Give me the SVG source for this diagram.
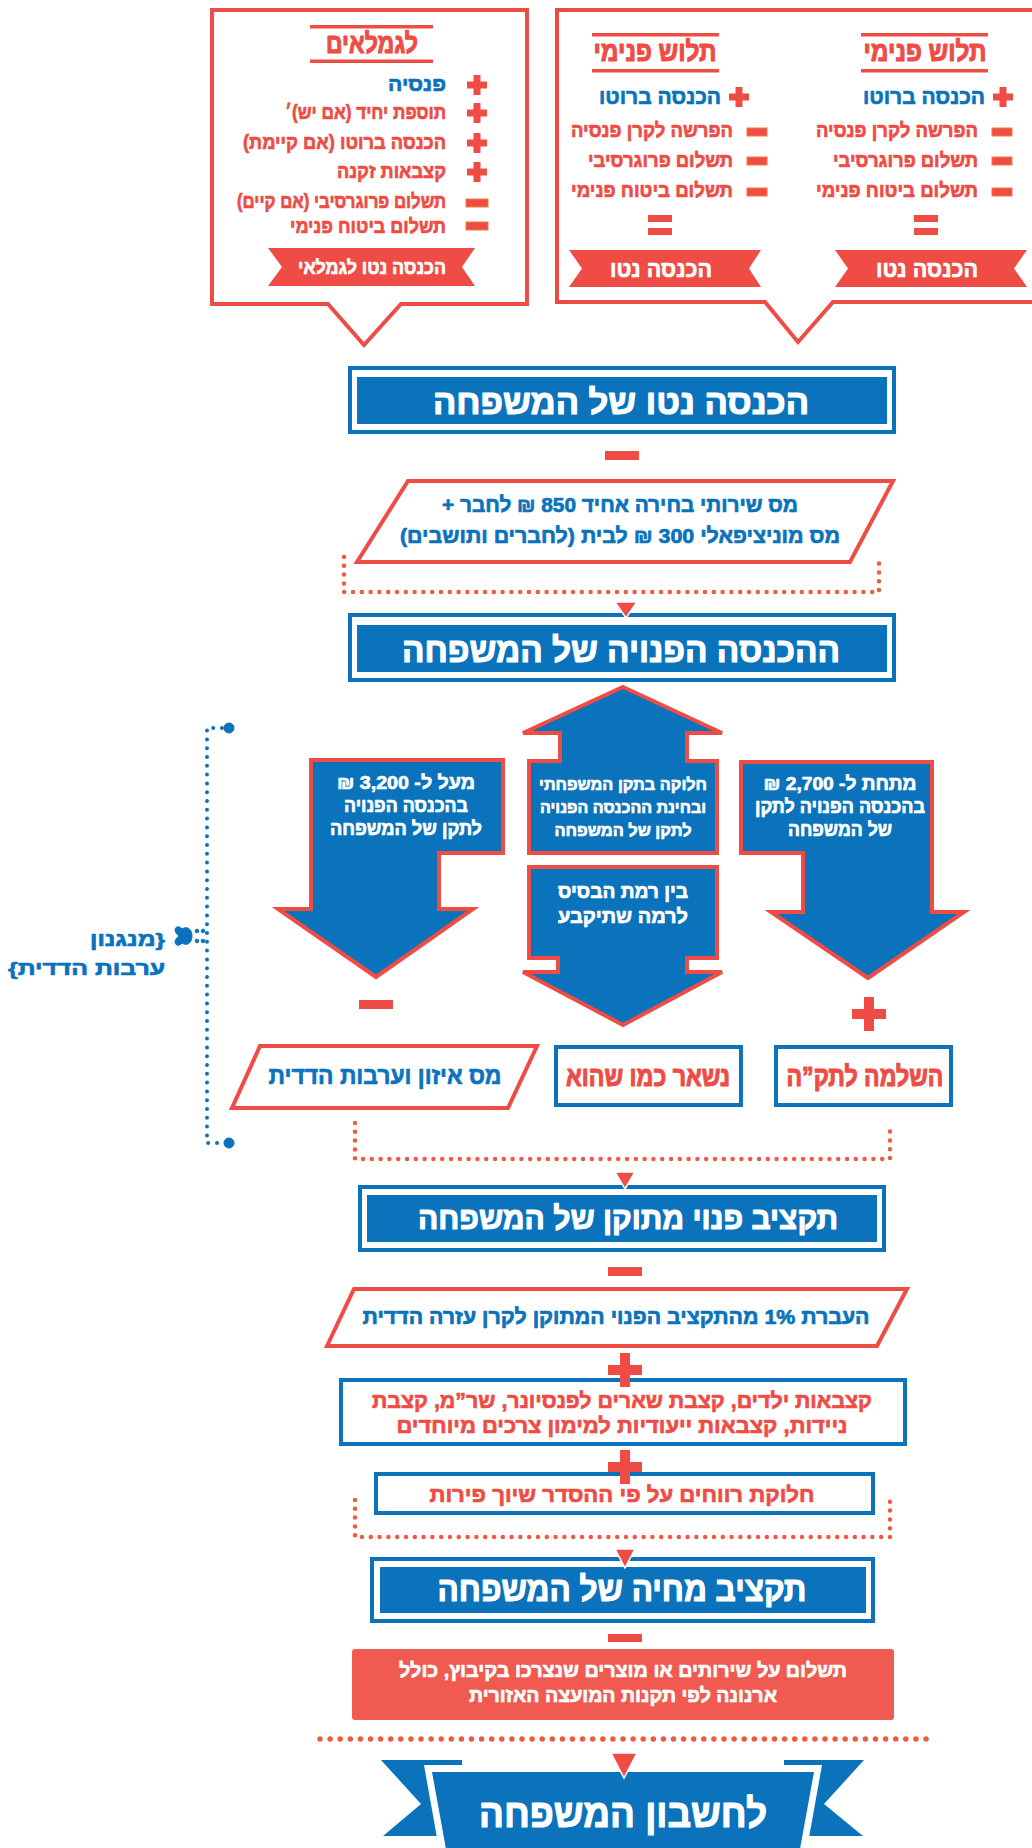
<svg xmlns="http://www.w3.org/2000/svg" width="1032" height="1848" viewBox="0 0 1032 1848">
<style>
.t{font-family:"Liberation Sans","DejaVu Sans",sans-serif;font-weight:bold;direction:rtl;stroke-width:0.7;stroke-linejoin:round}
.h{stroke-width:1.1}
.c{text-anchor:middle}
.r{text-anchor:start}
.w{fill:#fff;stroke:#fff}
.b{fill:#0A73BC;stroke:#0A73BC}
.rd{fill:#EE4C44;stroke:#EE4C44}
.rs{fill:none;stroke:#EE4C44;stroke-width:4}
.bs{fill:none;stroke:#0A73BC;stroke-width:4}
.bf{fill:#0A73BC}
.rf{fill:#EE4C44}
.arr{fill:#0A73BC;stroke:#EE4C44;stroke-width:4;stroke-linejoin:miter}
.dot{fill:none;stroke:#F05A3F;stroke-width:4.5;stroke-linecap:round;stroke-dasharray:0 8.8}
.bdot{fill:none;stroke:#0A73BC;stroke-width:4;stroke-linecap:round;stroke-dasharray:0 8.8}
.tri{fill:#EE4C44;stroke:#fff;stroke-width:1.5}
.mn{fill:#EE4C44;stroke:#F47B3F;stroke-width:1}
</style>
<defs>
<path id="plusS" d="M-3.5,-10h7v6.5h6.5v7h-6.5v6.5h-7v-6.5h-6.5v-7h6.5z" fill="#EE4C44"/>
<path id="plusL" d="M-5,-17h10v12h12v10h-12v12h-10v-12h-12v-10h12z" fill="#EE4C44"/>
</defs>

<!-- top left box -->
<g id="pensioners">
<path class="rs" fill="#fff" d="M212,10H527V304H401L364,345L328,304H212Z"/>
<rect class="rf" x="310" y="25" width="123" height="3.5"/>
<rect class="rf" x="310" y="59.5" width="123" height="3.5"/>
<text class="t h c rd" x="372" y="53" font-size="28" textLength="92" lengthAdjust="spacingAndGlyphs">לגמלאים</text>
<use href="#plusS" x="477" y="85"/>
<use href="#plusS" x="477" y="113"/>
<use href="#plusS" x="477" y="143"/>
<use href="#plusS" x="477" y="172"/>
<rect class="mn" x="466" y="199" width="22" height="8"/>
<rect class="mn" x="466" y="222" width="22" height="8"/>
<text class="t r b" x="446" y="91" font-size="20" textLength="58" lengthAdjust="spacingAndGlyphs">פנסיה</text>
<text class="t r rd" x="446" y="119" font-size="20" textLength="161" lengthAdjust="spacingAndGlyphs">תוספת יחיד (אם יש)׳</text>
<text class="t r rd" x="446" y="149" font-size="20" textLength="203" lengthAdjust="spacingAndGlyphs">הכנסה ברוטו (אם קיימת)</text>
<text class="t r rd" x="446" y="178" font-size="20" textLength="109" lengthAdjust="spacingAndGlyphs">קצבאות זקנה</text>
<text class="t r rd" x="446" y="208" font-size="20" textLength="209" lengthAdjust="spacingAndGlyphs">תשלום פרוגרסיבי (אם קיים)</text>
<text class="t r rd" x="446" y="233" font-size="20" textLength="156" lengthAdjust="spacingAndGlyphs">תשלום ביטוח פנימי</text>
<path class="rf" d="M268,248H475L462,267L475,286H268L282,267Z"/>
<text class="t c w" x="372" y="274" font-size="19" textLength="148" lengthAdjust="spacingAndGlyphs">הכנסה נטו לגמלאי</text>
</g>

<!-- top right box -->
<g id="payslips">
<path class="rs" fill="#fff" d="M557,10H1040V302H833L798,342L765,302H557Z"/>
<rect class="rf" x="592" y="33" width="127" height="3.5"/>
<rect class="rf" x="592" y="69" width="127" height="3.5"/>
<text class="t h c rd" x="655" y="61" font-size="28" textLength="123" lengthAdjust="spacingAndGlyphs">תלוש פנימי</text>
<use href="#plusS" x="739" y="97"/>
<text class="t r b" x="721" y="104" font-size="22" textLength="122" lengthAdjust="spacingAndGlyphs">הכנסה ברוטו</text>
<rect class="mn" x="747" y="128" width="20" height="8"/>
<rect class="mn" x="747" y="157" width="20" height="8"/>
<rect class="mn" x="747" y="188" width="20" height="8"/>
<text class="t r rd" x="733" y="137" font-size="20" textLength="162" lengthAdjust="spacingAndGlyphs">הפרשה לקרן פנסיה</text>
<text class="t r rd" x="733" y="167" font-size="20" textLength="145" lengthAdjust="spacingAndGlyphs">תשלום פרוגרסיבי</text>
<text class="t r rd" x="733" y="197" font-size="20" textLength="162" lengthAdjust="spacingAndGlyphs">תשלום ביטוח פנימי</text>
<rect class="rf" x="648" y="215" width="24" height="7"/>
<rect class="rf" x="648" y="228" width="24" height="7"/>
<path class="rf" d="M569,250H761L749,268.5L761,287H569L582,268.5Z"/>
<text class="t c w" x="661" y="277" font-size="23" textLength="102" lengthAdjust="spacingAndGlyphs">הכנסה נטו</text>

<rect class="rf" x="861" y="33" width="127" height="3.5"/>
<rect class="rf" x="861" y="69" width="127" height="3.5"/>
<text class="t h c rd" x="925" y="61" font-size="28" textLength="123" lengthAdjust="spacingAndGlyphs">תלוש פנימי</text>
<use href="#plusS" x="1003" y="97"/>
<text class="t r b" x="985" y="104" font-size="22" textLength="122" lengthAdjust="spacingAndGlyphs">הכנסה ברוטו</text>
<rect class="mn" x="992" y="128" width="20" height="8"/>
<rect class="mn" x="992" y="157" width="20" height="8"/>
<rect class="mn" x="992" y="188" width="20" height="8"/>
<text class="t r rd" x="978" y="137" font-size="20" textLength="162" lengthAdjust="spacingAndGlyphs">הפרשה לקרן פנסיה</text>
<text class="t r rd" x="978" y="167" font-size="20" textLength="145" lengthAdjust="spacingAndGlyphs">תשלום פרוגרסיבי</text>
<text class="t r rd" x="978" y="197" font-size="20" textLength="162" lengthAdjust="spacingAndGlyphs">תשלום ביטוח פנימי</text>
<rect class="rf" x="914" y="215" width="24" height="7"/>
<rect class="rf" x="914" y="228" width="24" height="7"/>
<path class="rf" d="M835,250H1027L1014,268.5L1027,287H835L848,268.5Z"/>
<text class="t c w" x="927" y="277" font-size="23" textLength="102" lengthAdjust="spacingAndGlyphs">הכנסה נטו</text>
</g>

<!-- main box 1 -->
<g id="net-income">
<rect class="bs" x="350" y="368" width="544" height="64"/>
<rect class="bf" x="357" y="377" width="530" height="47"/>
<text class="t h c w" x="621" y="414" font-size="34" textLength="376" lengthAdjust="spacingAndGlyphs">הכנסה נטו של המשפחה</text>
</g>

<g id="minus1"><rect class="rf" x="605" y="451" width="34" height="9"/></g>

<g id="tax1">
<path class="rs" fill="#fff" d="M408,481H893L850,562H357Z"/>
<text class="t c b" x="620" y="512" font-size="21" textLength="356" lengthAdjust="spacingAndGlyphs">מס שירותי בחירה אחיד 850 ₪ לחבר +</text>
<text class="t c b" x="620" y="543" font-size="21" textLength="440" lengthAdjust="spacingAndGlyphs">מס מוניציפאלי 300 ₪ לבית (לחברים ותושבים)</text>
</g>

<g id="disposable">
<rect class="bs" x="350" y="615" width="544" height="65"/>
<rect class="bf" x="357" y="625" width="530" height="47"/>
<text class="t h c w" x="621" y="662" font-size="34" textLength="438" lengthAdjust="spacingAndGlyphs">ההכנסה הפנויה של המשפחה</text>
</g>

<g id="arrow-above">
<path class="arr" d="M311,760H503V853H439V909H473L376,977L278,909H311Z"/>
<text class="t c w" x="406" y="789" font-size="19" textLength="138" lengthAdjust="spacingAndGlyphs">מעל ל- 3,200 ₪</text>
<text class="t c w" x="406" y="812" font-size="19" textLength="124" lengthAdjust="spacingAndGlyphs">בהכנסה הפנויה</text>
<text class="t c w" x="406" y="835" font-size="19" textLength="152" lengthAdjust="spacingAndGlyphs">לתקן של המשפחה</text>
</g>

<g id="arrow-up">
<path class="arr" d="M623,687L722,733H687V761H717V853H529V761H560V733H523Z"/>
<text class="t c w" x="623" y="790" font-size="17" textLength="168" lengthAdjust="spacingAndGlyphs">חלוקה בתקן המשפחתי</text>
<text class="t c w" x="623" y="813" font-size="17" textLength="166" lengthAdjust="spacingAndGlyphs">ובחינת ההכנסה הפנויה</text>
<text class="t c w" x="623" y="836" font-size="17" textLength="137" lengthAdjust="spacingAndGlyphs">לתקן של המשפחה</text>
</g>

<g id="arrow-down">
<path class="arr" d="M529,867H717V958H687V972H722L623,1025L523,972H558V958H529Z"/>
<text class="t c w" x="623" y="898" font-size="20" textLength="130" lengthAdjust="spacingAndGlyphs">בין רמת הבסיס</text>
<text class="t c w" x="623" y="923" font-size="20" textLength="130" lengthAdjust="spacingAndGlyphs">לרמה שתיקבע</text>
</g>

<g id="arrow-below">
<path class="arr" d="M741,762H932V912H964L868,978L771,912H803V853H741Z"/>
<text class="t c w" x="840" y="790" font-size="19" textLength="153" lengthAdjust="spacingAndGlyphs">מתחת ל- 2,700 ₪</text>
<text class="t c w" x="840" y="813" font-size="19" textLength="170" lengthAdjust="spacingAndGlyphs">בהכנסה הפנויה לתקן</text>
<text class="t c w" x="840" y="836" font-size="19" textLength="104" lengthAdjust="spacingAndGlyphs">של המשפחה</text>
</g>

<g id="minus2"><rect class="rf" x="359" y="1000" width="34" height="9"/></g>
<g id="plus2"><use href="#plusL" x="869" y="1014"/></g>

<g id="balance-tax">
<path class="rs" fill="#fff" d="M260,1046H537L508,1108H232Z"/>
<text class="t c b" x="385" y="1084" font-size="24" textLength="233" lengthAdjust="spacingAndGlyphs">מס איזון וערבות הדדית</text>
</g>
<g id="unchanged">
<rect class="bs" fill="#fff" x="556" y="1047" width="185" height="58"/>
<text class="t h c rd" x="648" y="1086" font-size="28" textLength="164" lengthAdjust="spacingAndGlyphs">נשאר כמו שהוא</text>
</g>
<g id="supplement">
<rect class="bs" fill="#fff" x="776" y="1047" width="175" height="58"/>
<text class="t h c rd" x="865" y="1086" font-size="28" textLength="157" lengthAdjust="spacingAndGlyphs">השלמה לתק”ה</text>
</g>

<g id="adjusted">
<rect class="bs" x="360" y="1187" width="524" height="63"/>
<rect class="bf" x="367" y="1195" width="510" height="47"/>
<text class="t h c w" x="628" y="1229" font-size="32" textLength="420" lengthAdjust="spacingAndGlyphs">תקציב פנוי מתוקן של המשפחה</text>
</g>

<g id="minus3"><rect class="rf" x="608" y="1267" width="34" height="9"/></g>

<g id="fund">
<path class="rs" fill="#fff" d="M354,1289H907L877,1346H327Z"/>
<text class="t c b" x="616" y="1324" font-size="21" textLength="507" lengthAdjust="spacingAndGlyphs">העברת 1% מהתקציב הפנוי המתוקן לקרן עזרה הדדית</text>
</g>

<g id="allowances">
<rect class="bs" fill="#fff" x="341" y="1380" width="564" height="64"/>
<text class="t c rd" x="622" y="1408" font-size="22" textLength="500" lengthAdjust="spacingAndGlyphs">קצבאות ילדים, קצבת שארים לפנסיונר, שר”מ, קצבת</text>
<text class="t c rd" x="622" y="1433" font-size="22" textLength="451" lengthAdjust="spacingAndGlyphs">ניידות, קצבאות ייעודיות למימון צרכים מיוחדים</text>
</g>

<g id="profits">
<rect class="bs" fill="#fff" x="376" y="1474" width="497" height="39"/>
<text class="t c rd" x="622" y="1502" font-size="22" textLength="385" lengthAdjust="spacingAndGlyphs">חלוקת רווחים על פי ההסדר שיוך פירות</text>
</g>

<g id="living">
<rect class="bs" x="372" y="1559" width="501" height="62"/>
<rect class="bf" x="380" y="1567" width="486" height="46"/>
<text class="t h c w" x="622" y="1601" font-size="34" textLength="369" lengthAdjust="spacingAndGlyphs">תקציב מחיה של המשפחה</text>
</g>

<g id="minus4"><rect class="rf" x="608" y="1634" width="34" height="8"/></g>

<g id="payment">
<rect x="352" y="1649" width="542" height="71" rx="3" fill="#F05A50"/>
<text class="t c w" x="623" y="1677" font-size="20" textLength="448" lengthAdjust="spacingAndGlyphs">תשלום על שירותים או מוצרים שנצרכו בקיבוץ, כולל</text>
<text class="t c w" x="623" y="1702" font-size="20" textLength="308" lengthAdjust="spacingAndGlyphs">ארנונה לפי תקנות המועצה האזורית</text>
</g>

<g id="family-account">
<path class="bf" d="M381,1760H462V1836H383L421,1804Z"/>
<path class="bf" d="M864,1760H784V1836H863L824,1804Z"/>
<path fill="#fff" d="M424,1765H822L805,1860H441Z"/>
<path class="bf" d="M432,1772H814L798,1860H448Z"/>
<text class="t h c w" x="623" y="1827" font-size="40" textLength="288" lengthAdjust="spacingAndGlyphs">לחשבון המשפחה</text>
</g>

<g id="mechanism">
<path class="b" d="M192,936C192,928 186,926 182,929C178,924 173,928 176,933L179,936L176,939C173,944 178,948 182,943C186,946 192,944 192,936Z"/>
<text class="t r b" x="165" y="946" font-size="19" textLength="75" lengthAdjust="spacingAndGlyphs">{מנגנון</text>
<text class="t r b" x="165" y="975" font-size="19" textLength="157" lengthAdjust="spacingAndGlyphs">ערבות הדדית}</text>
</g>

<g id="connectors">
<path class="dot" d="M344,557V592H879V557"/>
<path class="tri" d="M615,602H637L626,618Z"/>
<path class="dot" d="M355,1123V1159H890V1123"/>
<path class="tri" d="M615,1172H635L625,1189Z"/>
<path class="dot" d="M355,1500V1537H890V1500"/>
<path class="tri" d="M615,1549H635L625,1568Z"/>
<path class="dot" d="M320,1739H927" style="stroke-width:5.5;stroke-dasharray:0 10.1"/>
<path class="tri" d="M611,1753H637L624,1778Z"/>
<use href="#plusL" x="625" y="1370"/>
<use href="#plusL" x="625" y="1467"/>
<path class="bdot" d="M222,728H207V1143H222"/>
<circle class="b" cx="229" cy="728" r="5"/>
<circle class="b" cx="229" cy="1143" r="5"/>
<circle class="b" cx="197" cy="931" r="1.8"/>
<circle class="b" cx="203" cy="931" r="1.8"/>
<circle class="b" cx="197" cy="941" r="1.8"/>
<circle class="b" cx="203" cy="941" r="1.8"/>
</g>
</svg>
